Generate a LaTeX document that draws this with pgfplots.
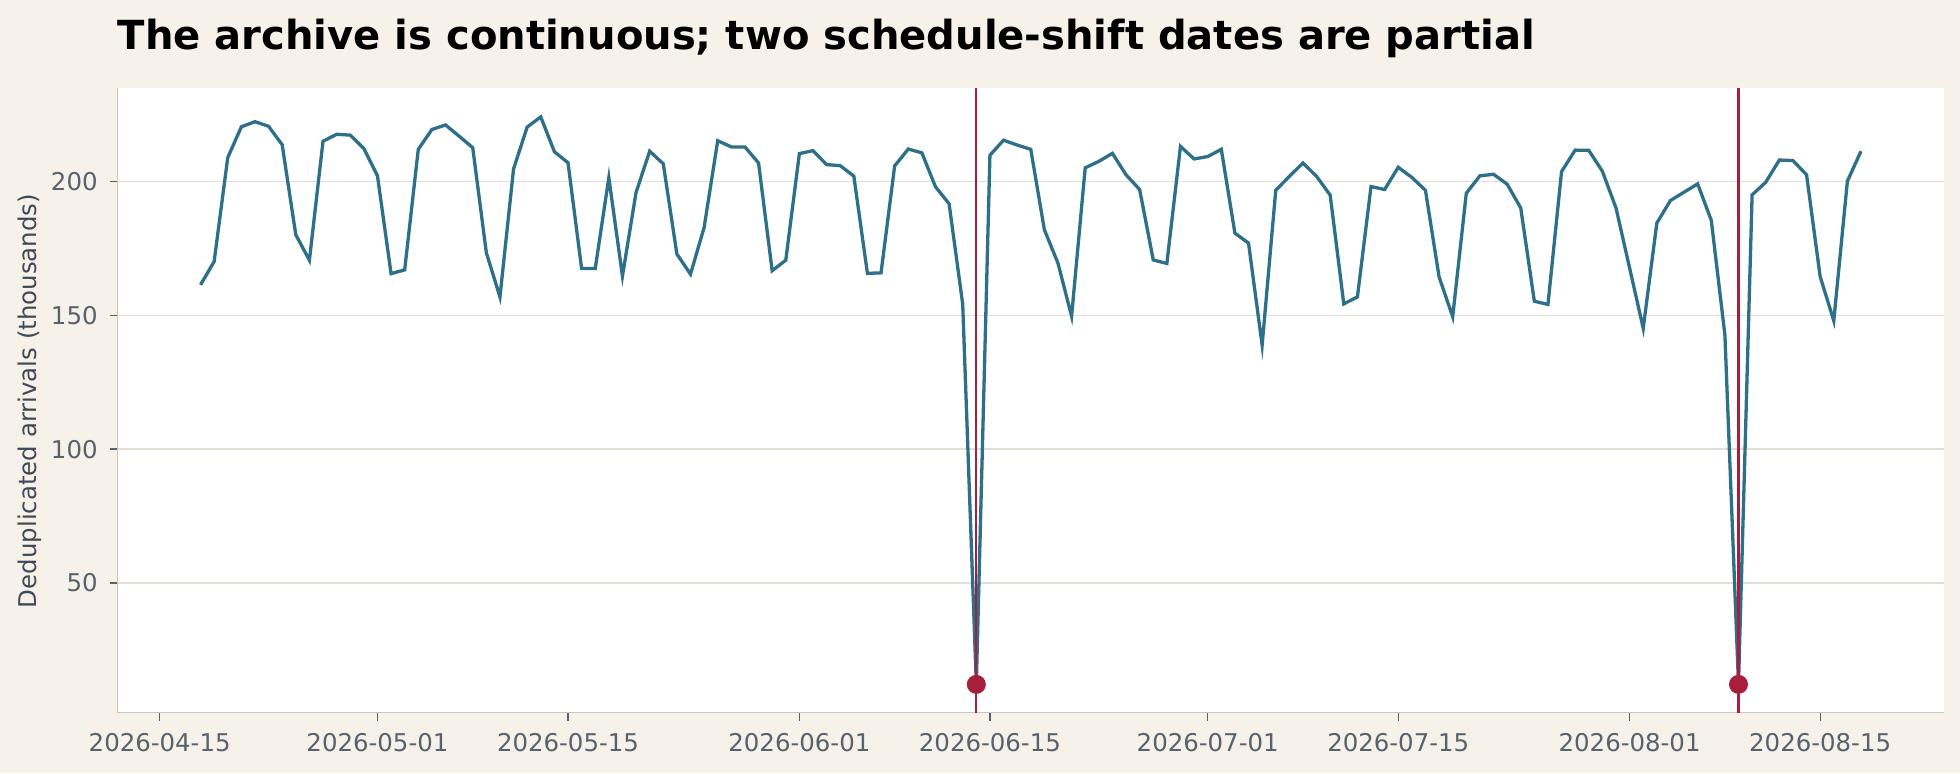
\documentclass[border=0pt]{standalone}
\usepackage{fontspec}
\setmainfont{DejaVu Sans}
\usepackage{pgfplots}
\pgfplotsset{compat=1.18}

\definecolor{bgc}{HTML}{F6F2EA}
\definecolor{linec}{HTML}{2E6F8A}
\definecolor{redc}{HTML}{A81F3D}
\definecolor{gridc}{HTML}{E3DFD5}
\definecolor{spinec}{HTML}{CBC7BF}
\definecolor{tickc}{HTML}{56626D}
\definecolor{labelc}{HTML}{3E4A55}

\newcommand\ticksize{\fontsize{6.95}{8.4}\selectfont}

\begin{document}
\begin{tikzpicture}
\fill[bgc] (0,0) rectangle (196mm,77.3mm);

\begin{axis}[
    at={(11.75mm,6.05mm)}, anchor=south west,
    scale only axis,
    width=182.65mm, height=62.4mm,
    xmin=-3.1, xmax=131.1,
    ymin=1.7, ymax=234.6,
    axis lines*=left,
    axis line style={spinec, line width=0.13mm, -},
    axis background/.style={fill=white},
    tick align=outside,
    major tick length=0.8mm,
    tick style={tickc, line width=0.13mm},
    xtick={0,16,30,47,61,77,91,108,122},
    xticklabels={2026-04-15,2026-05-01,2026-05-15,2026-06-01,2026-06-15,2026-07-01,2026-07-15,2026-08-01,2026-08-15},
    ytick={50,100,150,200},
    ymajorgrids,
    grid style={gridc, line width=0.13mm},
    ticklabel style={font=\ticksize, text=tickc},
    xticklabel style={anchor=north, inner sep=0pt, yshift=-1.17mm},
    yticklabel style={anchor=east, inner sep=0pt, xshift=-1.12mm},
    /pgf/number format/assume math mode=true,
]

% daily counts, day 0 = 2026-04-15
\addplot[linec, line width=0.33mm] coordinates {
(3,161.3) (4,170.0) (5,208.8) (6,220.3) (7,222.2) (8,220.5) (9,213.6)
(10,180.0) (11,170.5) (12,214.9) (13,217.5) (14,217.2) (15,212.2) (16,202.0)
(17,165.5) (18,166.9) (19,211.9) (20,219.3) (21,221.0) (22,216.8) (23,212.5)
(24,173.3) (25,156.8) (26,204.6) (27,220.2) (28,224.0) (29,211.0) (30,206.9)
(31,167.4) (32,167.4) (33,201.3) (34,164.6) (35,195.8) (36,211.2) (37,206.5)
(38,172.8) (39,165.3) (40,182.7) (41,215.1) (42,212.8) (43,212.8) (44,206.8)
(45,166.6) (46,170.5) (47,210.3) (48,211.4) (49,206.2) (50,205.8) (51,201.9)
(52,165.6) (53,165.8) (54,205.7) (55,212.0) (56,210.6) (57,197.9) (58,191.6)
(59,154.1) (60,12.2) (61,209.7) (62,215.3) (63,213.5) (64,211.9) (65,181.9)
(66,169.4) (67,149.6) (68,205.0) (69,207.4) (70,210.4) (71,202.4) (72,196.9)
(73,170.6) (74,169.3) (75,213.0) (76,208.3) (77,209.2) (78,211.9) (79,180.6)
(80,176.9) (81,138.8) (82,196.6) (83,201.8) (84,206.8) (85,201.8) (86,194.8)
(87,154.2) (88,156.8) (89,198.0) (90,196.9) (91,205.2) (92,201.4) (93,196.6)
(94,164.3) (95,149.4) (96,195.5) (97,202.0) (98,202.6) (99,198.9) (100,190.0)
(101,155.2) (102,154.0) (103,203.6) (104,211.6) (105,211.5) (106,203.7) (107,190.0)
(108,167.6) (109,145.1) (110,184.4) (111,192.8) (112,195.9) (113,199.0) (114,185.4)
(115,142.7) (116,12.2) (117,194.9) (118,199.6) (119,207.9) (120,207.7) (121,202.4)
(122,164.4) (123,147.9) (124,200.0) (125,211.2)
};

% partial dates
\addplot[redc, line width=0.23mm] coordinates {(60,1.7) (60,234.6)};
\addplot[redc, line width=0.23mm] coordinates {(116,1.7) (116,234.6)};
\addplot[only marks, mark=*, mark size=0.88mm, mark options={fill=redc, draw=redc}]
    coordinates {(60,12.2) (116,12.2)};

\end{axis}

\node[anchor=base west, inner sep=0pt, font=\fontsize{11.4}{13.7}\selectfont\bfseries]
    at (11.7mm,72.3mm) {The archive is continuous; two schedule-shift dates are partial};
\node[rotate=90, anchor=center, inner sep=0pt, font=\ticksize, text=labelc]
    at (2.95mm,37.2mm) {Deduplicated arrivals (thousands)};

\pgfresetboundingbox
\useasboundingbox (0,0) rectangle (196mm,77.3mm);
\end{tikzpicture}
\end{document}
